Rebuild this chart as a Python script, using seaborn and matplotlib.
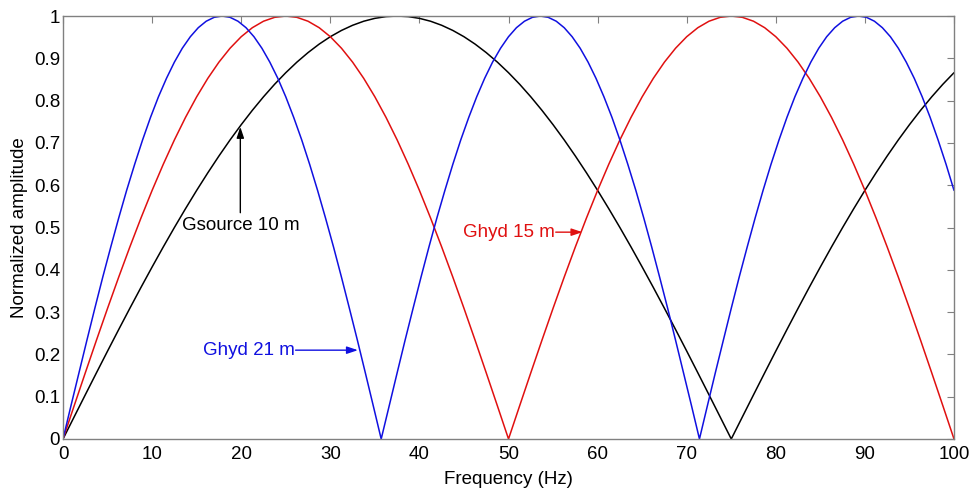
import matplotlib
matplotlib.use('Agg')
import matplotlib.pyplot as plt
import seaborn as sns

# Ghost responses (normalized amplitude vs frequency in Hz)
freq = [0, 1.25, 2.5, 3.75, 5, 6.25, 7.5, 8.75, 10, 11.25, 12.5, 13.75, 15, 16.25, 17.5,
        18.75, 20, 21.25, 22.5, 23.75, 25, 26.25, 27.5, 28.75, 30, 31.25, 32.5, 33.75,
        35, 36.25, 37.5, 38.75, 40, 41.25, 42.5, 43.75, 45, 46.25, 47.5, 48.75, 50,
        51.25, 52.5, 53.75, 55, 56.25, 57.5, 58.75, 60, 61.25, 62.5, 63.75, 65, 66.25,
        67.5, 68.75, 70, 71.25, 72.5, 73.75, 75, 76.25, 77.5, 78.75, 80, 81.25, 82.5,
        83.75, 85, 86.25, 87.5, 88.75, 90, 91.25, 92.5, 93.75, 95, 96.25, 97.5, 98.75, 100]

gsource_10 = [0, .0523, .1045, .1564, .2079, .2588, .3090, .3584, .4067, .4540, .5000,
              .5446, .5878, .6293, .6691, .7071, .7431, .7771, .8090, .8387, .8660, .8910,
              .9135, .9336, .9511, .9659, .9781, .9877, .9945, .9986, 1.0,
              .9986, .9945, .9877, .9781, .9659, .9511, .9336, .9135, .8910, .8660, .8387,
              .8090, .7771, .7431, .7071, .6691, .6293, .5878, .5446, .5000, .4540, .4067,
              .3584, .3090, .2588, .2079, .1564, .1045, .0523, 0,
              .0523, .1045, .1564, .2079, .2588, .3090, .3584, .4067, .4540, .5000, .5446,
              .5878, .6293, .6691, .7071, .7431, .7771, .8090, .8387, .8660]

ghyd_15 = [0, .0785, .1564, .2334, .3090, .3827, .4540, .5225, .5878, .6494, .7071, .7604,
           .8090, .8526, .8910, .9239, .9511, .9724, .9877, .9969, 1.0, .9969, .9877, .9724,
           .9511, .9239, .8910, .8526, .8090, .7604, .7071, .6494, .5878, .5225, .4540,
           .3827, .3090, .2334, .1564, .0785,
           0, .0785, .1564, .2334, .3090, .3827, .4540, .5225, .5878, .6494, .7071, .7604,
           .8090, .8526, .8910, .9239, .9511, .9724, .9877, .9969, 1.0, .9969, .9877, .9724,
           .9511, .9239, .8910, .8526, .8090, .7604, .7071, .6494, .5878, .5225, .4540,
           .3827, .3090, .2334, .1564, .0785, 0]

freq_21 = [0, 0.89, 1.79, 2.68, 3.57, 4.46, 5.36, 6.25, 7.14, 8.04, 8.93, 9.82, 10.71,
           11.61, 12.5, 13.39, 14.29, 15.18, 16.07, 16.96, 17.86, 18.75, 19.64, 20.54,
           21.43, 22.32, 23.21, 24.11, 25, 25.89, 26.79, 27.68, 28.57, 29.46, 30.36,
           31.25, 32.14, 33.04, 33.93, 34.82, 35.71, 36.61, 37.5, 38.39, 39.29, 40.18,
           41.07, 41.96, 42.86, 43.75, 44.64, 45.54, 46.43, 47.32, 48.21, 49.11, 50,
           50.89, 51.79, 52.68, 53.57, 54.46, 55.36, 56.25, 57.14, 58.04, 58.93, 59.82,
           60.71, 61.61, 62.5, 63.39, 64.29, 65.18, 66.07, 66.96, 67.86, 68.75, 69.64,
           70.54, 71.43, 72.32, 73.21, 74.11, 75, 75.89, 76.79, 77.68, 78.57, 79.46,
           80.36, 81.25, 82.14, 83.04, 83.93, 84.82, 85.71, 86.61, 87.5, 88.39, 89.29,
           90.18, 91.07, 91.96, 92.86, 93.75, 94.64, 95.54, 96.43, 97.32, 98.21, 99.11, 100]

ghyd_21 = [0, .0785, .1564, .2334, .3090, .3827, .4540, .5225, .5878, .6494, .7071, .7604,
           .8090, .8526, .8910, .9239, .9511, .9724, .9877, .9969, 1.0, .9969, .9877, .9724,
           .9511, .9239, .8910, .8526, .8090, .7604, .7071, .6494, .5878, .5225, .4540,
           .3827, .3090, .2334, .1564, .0785,
           0, .0785, .1564, .2334, .3090, .3827, .4540, .5225, .5878, .6494, .7071, .7604,
           .8090, .8526, .8910, .9239, .9511, .9724, .9877, .9969, 1.0, .9969, .9877, .9724,
           .9511, .9239, .8910, .8526, .8090, .7604, .7071, .6494, .5878, .5225, .4540,
           .3827, .3090, .2334, .1564, .0785,
           0, .0785, .1564, .2334, .3090, .3827, .4540, .5225, .5878, .6494, .7071, .7604,
           .8090, .8526, .8910, .9239, .9511, .9724, .9877, .9969, 1.0, .9969, .9877, .9724,
           .9511, .9239, .8910, .8526, .8090, .7604, .7071, .6494, .5878]

xticks = [0, 10, 20, 30, 40, 50, 60, 70, 80, 90, 100]
yticks = [0, 0.1, 0.2, 0.3, 0.4, 0.5, 0.6, 0.7, 0.8, 0.9, 1]
ytick_labels = ['0', '0.1', '0.2', '0.3', '0.4', '0.5', '0.6', '0.7', '0.8', '0.9', '1']

BLACK = 'black'
RED = '#e01010'
BLUE = '#1010e0'
FS = 13.5

sns.set_style('white')
plt.rcParams['font.family'] = ['Liberation Sans', 'DejaVu Sans']
plt.rcParams['text.color'] = 'black'
plt.rcParams['axes.labelcolor'] = 'black'

fig = plt.figure(figsize=(9.71, 4.90), dpi=100)
ax = fig.add_axes([0.0649, 0.1041, 0.9176, 0.8632])

sns.lineplot(x=freq, y=gsource_10, color=BLACK, lw=1.1, ax=ax, sort=False)
sns.lineplot(x=freq, y=ghyd_15, color=RED, lw=1.1, ax=ax, sort=False)
sns.lineplot(x=freq_21, y=ghyd_21, color=BLUE, lw=1.1, ax=ax, sort=False)

ax.set_xlim(0, 100)
ax.set_ylim(0, 1)
ax.set_xticks(xticks)
ax.set_yticks(yticks)
ax.set_yticklabels(ytick_labels)
ax.tick_params(direction='in', length=5, width=0.8, color='#808080', labelcolor='black',
               labelsize=FS, top=True, right=True)
ax.tick_params(axis='x', pad=5)
ax.tick_params(axis='y', pad=2)
for s in ax.spines.values():
    s.set_color('#808080')
    s.set_linewidth(1.0)

ax.set_xlabel('Frequency (Hz)', fontsize=FS, labelpad=6)
ax.set_ylabel('Normalized amplitude', fontsize=FS, labelpad=4)

arrow = '-|>,head_length=0.6,head_width=0.2'

# annotations
ax.annotate('', xy=(19.9, 0.738), xytext=(19.9, 0.535),
            arrowprops=dict(arrowstyle=arrow, color=BLACK, lw=1.0, mutation_scale=11,
                            shrinkA=0, shrinkB=0))
ax.text(19.9, 0.505, 'Gsource 10 m', color=BLACK, fontsize=FS, ha='center', va='center')

ax.text(44.9, 0.489, 'Ghyd 15 m', color=RED, fontsize=FS, ha='left', va='center')
ax.annotate('', xy=(58.3, 0.489), xytext=(55.3, 0.489),
            arrowprops=dict(arrowstyle=arrow, color=RED, lw=1.0, mutation_scale=11,
                            shrinkA=0, shrinkB=0))

ax.text(15.7, 0.21, 'Ghyd 21 m', color=BLUE, fontsize=FS, ha='left', va='center')
ax.annotate('', xy=(33.1, 0.21), xytext=(26.1, 0.21),
            arrowprops=dict(arrowstyle=arrow, color=BLUE, lw=1.0, mutation_scale=11,
                            shrinkA=0, shrinkB=0))

plt.savefig('out.png', dpi=100)
